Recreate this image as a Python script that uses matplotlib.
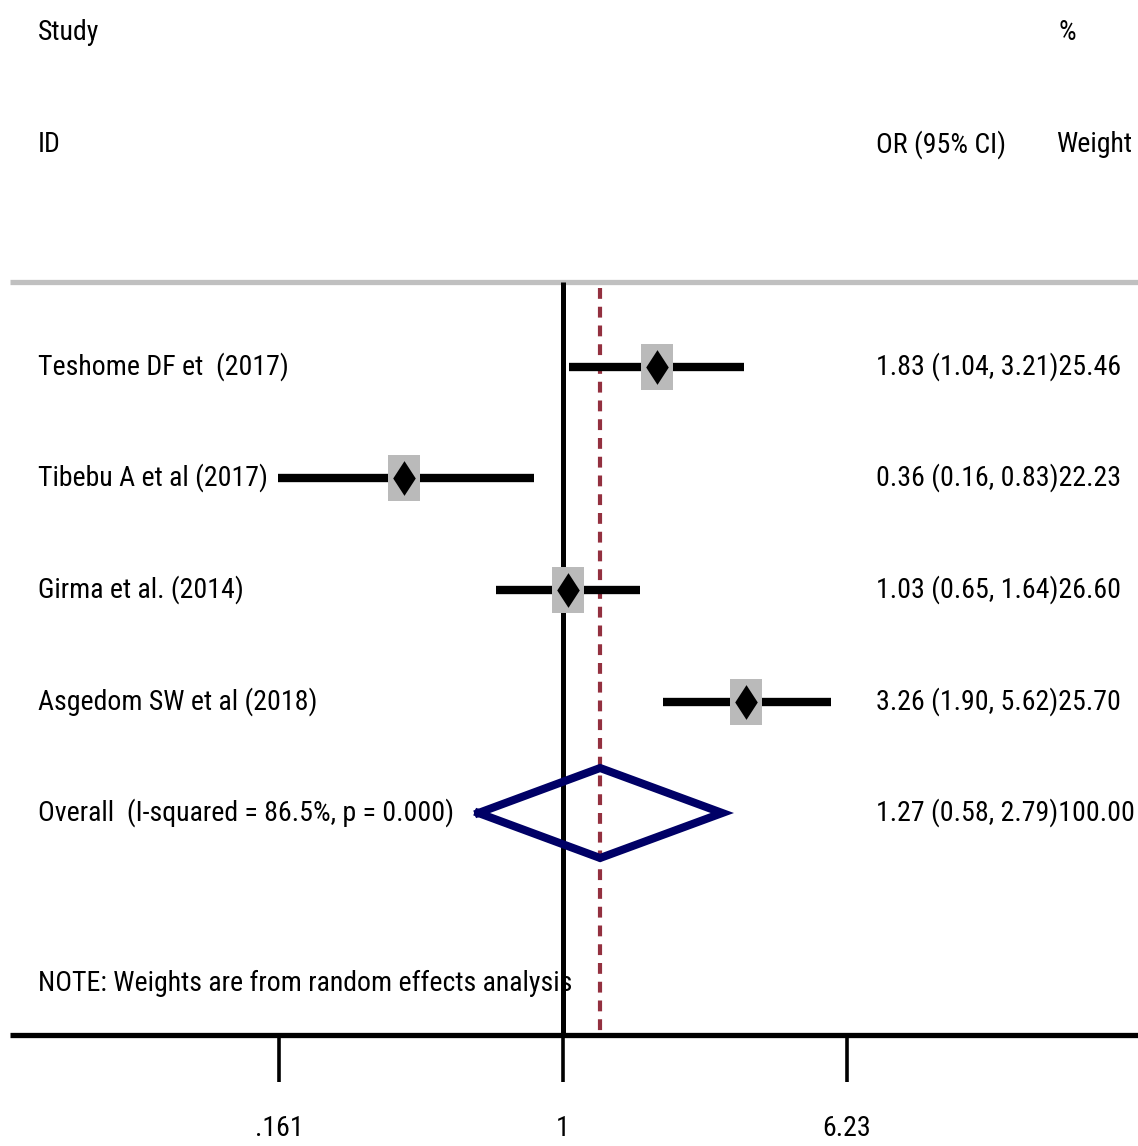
import matplotlib
matplotlib.use('Agg')
import matplotlib.pyplot as plt
import matplotlib.transforms as mtransforms
from matplotlib import font_manager

# study data
studies = ['Teshome DF et  (2017)', 'Tibebu A et al (2017)', 'Girma et al. (2014)', 'Asgedom SW et al (2018)']
orr = [1.83, 0.36, 1.03, 3.26]
lo = [1.04, 0.16, 0.65, 1.90]
hi = [3.21, 0.83, 1.64, 5.62]
weights = [25.46, 22.23, 26.60, 25.70]
pooled = (1.27, 0.58, 2.79)
overall_label = 'Overall  (I-squared = 86.5%, p = 0.000)'
tick_vals = [0.161, 1, 6.23]
tick_labels = ['.161', '1', '6.23']

# condensed sans if available
names = set(f.name for f in font_manager.fontManager.ttflist)
fam = 'Liberation Sans'
for c in ['Roboto Condensed', 'Archivo Narrow', 'Liberation Sans Narrow', 'Barlow Semi Condensed']:
    if c in names:
        fam = c
        break
plt.rcParams['font.family'] = [fam, 'DejaVu Sans']

W, H = 1138, 1146
fig = plt.figure(figsize=(W / 100, H / 100), dpi=100)
ax = fig.add_axes([0, 0, 1, 1])

# pick font size so the estimate column is as wide as in the picture (~242 px)
probe = fig.text(0, 0, '1.83 (1.04, 3.21)25.46', fontsize=10)
fig.canvas.draw()
pw = probe.get_window_extent().width
probe.remove()
FS = min(28, 10 * 242 / pw)

ax.set_xscale('log')
# pixel 563 -> OR 1, 357.5 px per decade
ax.set_xlim(10 ** (-563 / 357.5), 10 ** ((W - 563) / 357.5))
ax.set_ylim(H, 0)
ax.axis('off')

tr = mtransforms.blended_transform_factory(ax.transAxes, ax.transData)

rows = [367, 478, 590, 702]
ov_y = 813

# header
ax.text(38 / W, 33, 'Study', transform=tr, fontsize=FS, va='center', ha='left')
ax.text(38 / W, 145, 'ID', transform=tr, fontsize=FS, va='center', ha='left')
ax.text(1058 / W, 33, '%', transform=tr, fontsize=FS, va='center', ha='left')
ax.text(876 / W, 145, 'OR (95% CI)', transform=tr, fontsize=FS, va='center', ha='left')
ax.text(1056 / W, 145, 'Weight', transform=tr, fontsize=FS, va='center', ha='left')

# gray separator
ax.plot([10 / W, 1], [282, 282], transform=tr, color='#c0c0c0', lw=3.8, solid_capstyle='butt')

# null line and pooled line
ax.plot([1, 1], [282, 1035], color='black', lw=3.6, solid_capstyle='butt', zorder=2)
ax.plot([pooled[0], pooled[0]], [288, 1035], color='#93303f', lw=3, linestyle=(0, (2.6, 1.9)), zorder=2)

box = [(-0.68, -1), (0.68, -1), (0.68, 1), (-0.68, 1), (-0.68, -1)]
dia = [(0, -1), (0.65, 0), (0, 1), (-0.65, 0), (0, -1)]

for i, y in enumerate(rows):
    ax.text(38 / W, y, studies[i], transform=tr, fontsize=FS, va='center', ha='left')
    ax.plot([lo[i], hi[i]], [y, y], color='black', lw=6, solid_capstyle='butt', zorder=3)
    ax.plot([orr[i]], [y], marker=box, markersize=33, color='#bababa', markeredgewidth=0, zorder=4)
    ax.plot([orr[i]], [y], marker=dia, markersize=25, color='black', markeredgewidth=0, zorder=5)
    ax.text(876 / W, y, '%.2f (%.2f, %.2f)%.2f' % (orr[i], lo[i], hi[i], weights[i]),
            transform=tr, fontsize=FS, va='center', ha='left')

# overall diamond
ax.text(38 / W, ov_y, overall_label, transform=tr, fontsize=FS, va='center', ha='left')
ax.plot([pooled[1], pooled[0], pooled[2], pooled[0], pooled[1]],
        [ov_y, ov_y - 45, ov_y, ov_y + 45, ov_y], color='#000066', lw=5.8, zorder=6,
        solid_joinstyle='miter')
ax.text(876 / W, ov_y, '%.2f (%.2f, %.2f)%.2f' % (pooled[0], pooled[1], pooled[2], 100.00),
        transform=tr, fontsize=FS, va='center', ha='left')

ax.text(38 / W, 983, 'NOTE: Weights are from random effects analysis', transform=tr,
        fontsize=FS, va='center', ha='left', zorder=7)

# x axis
ax.plot([10 / W, 1], [1035, 1035], transform=tr, color='black', lw=3.8, solid_capstyle='butt')
ax.vlines(tick_vals, 1035, 1082, color='black', lw=2.6)
for v, lab in zip(tick_vals, tick_labels):
    ax.text(v, 1129, lab, fontsize=FS, va='center', ha='center')

fig.savefig('out.png', dpi=100)
